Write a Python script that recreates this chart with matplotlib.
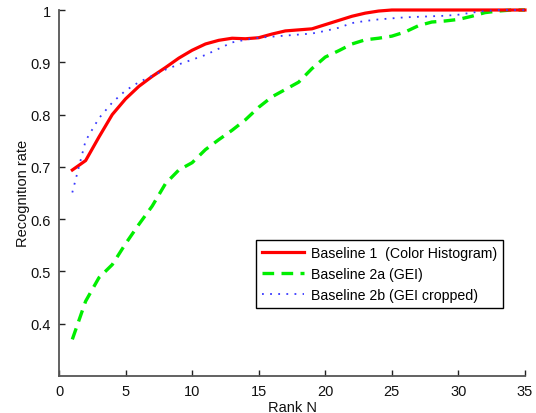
import matplotlib
matplotlib.use("Agg")
import matplotlib.pyplot as plt
from matplotlib.transforms import Bbox, TransformedBbox

plt.rcParams['font.family'] = ['Liberation Sans', 'DejaVu Sans']

rank = list(range(1, 36))

baseline1 = [0.694, 0.712, 0.757, 0.800, 0.830, 0.854, 0.873, 0.890, 0.908, 0.923,
             0.935, 0.942, 0.946, 0.945, 0.947, 0.954, 0.960, 0.962, 0.964, 0.972,
             0.980, 0.988, 0.994, 0.998, 1.0, 1.0, 1.0, 1.0, 1.0, 1.0,
             1.0, 1.0, 1.0, 1.0, 1.0]

baseline2a = [0.370, 0.443, 0.488, 0.513, 0.553, 0.590, 0.625, 0.668, 0.694, 0.708,
              0.733, 0.752, 0.770, 0.790, 0.814, 0.834, 0.848, 0.862, 0.888, 0.910,
              0.922, 0.935, 0.943, 0.946, 0.950, 0.958, 0.970, 0.977, 0.979, 0.982,
              0.988, 0.995, 0.998, 1.0, 1.0]

baseline2b = [0.651, 0.750, 0.793, 0.823, 0.846, 0.862, 0.874, 0.886, 0.896, 0.905,
              0.914, 0.926, 0.938, 0.943, 0.947, 0.949, 0.951, 0.953, 0.955, 0.960,
              0.966, 0.975, 0.979, 0.982, 0.984, 0.986, 0.987, 0.988, 0.989, 0.991,
              0.995, 0.998, 1.0, 1.0, 1.0]

labels = ['Baseline 1  (Color Histogram)', 'Baseline 2a (GEI)', 'Baseline 2b (GEI cropped)']
xticks = [0, 5, 10, 15, 20, 25, 30, 35]
yticks = [0.4, 0.5, 0.6, 0.7, 0.8, 0.9, 1.0]
yticklabels = ['0.4', '0.5', '0.6', '0.7', '0.8', '0.9', '1']

W, H = 536, 414
fig = plt.figure(figsize=(W / 100, H / 100), dpi=100)
ax = fig.add_axes([59 / W, 1 - 377 / H, (525 - 59) / W, (377 - 11) / H])

ax.plot(rank, baseline1, color='#ff0000', lw=2.3, label=labels[0], clip_on=False, zorder=3)
ax.plot(rank, baseline2a, color='#00ee00', lw=2.4, dashes=(3.5, 2.2), label=labels[1],
        clip_on=False, zorder=2)
ax.plot(rank, baseline2b, color='#3838ff', lw=1.3, dashes=(1, 3.5), label=labels[2],
        clip_on=False, zorder=4)

ax.set_xlim(0, 35)
ax.set_ylim(0.3, 1)
ax.set_xticks(xticks)
ax.set_yticks(yticks)
ax.set_yticklabels(yticklabels)

for s in ['top', 'right']:
    ax.spines[s].set_visible(False)
for s in ['left', 'bottom']:
    ax.spines[s].set_color('#555555')
    ax.spines[s].set_linewidth(1.3)
ax.tick_params(direction='in', length=4, width=1, color='#222222',
               labelsize=10.5, labelcolor='#111111', pad=6)

leg = ax.legend(loc='lower right', bbox_to_anchor=(0.953, 0.186), fontsize=10.2,
                fancybox=False, framealpha=1, edgecolor='black', handlelength=3.0,
                handletextpad=0.5, borderpad=0.4, labelspacing=0.5, borderaxespad=0)
leg.get_frame().set_linewidth(1.0)

# y label sits partly outside the drawing area, as in the source figure
yl = fig.text(30 / W, 1 - 193 / H, 'Recognition rate', rotation=90, ha='right', va='center',
              fontsize=10.5, color='#111111')
yl.set_clip_on(True)
yl.set_clip_box(TransformedBbox(Bbox([[16 / W, 0], [1, 1]]), fig.transFigure))

fig.text(292 / W, 1 - 401 / H, 'Rank N', ha='center', va='top', fontsize=10.5, color='#111111')

fig.savefig('out.png', dpi=100)
